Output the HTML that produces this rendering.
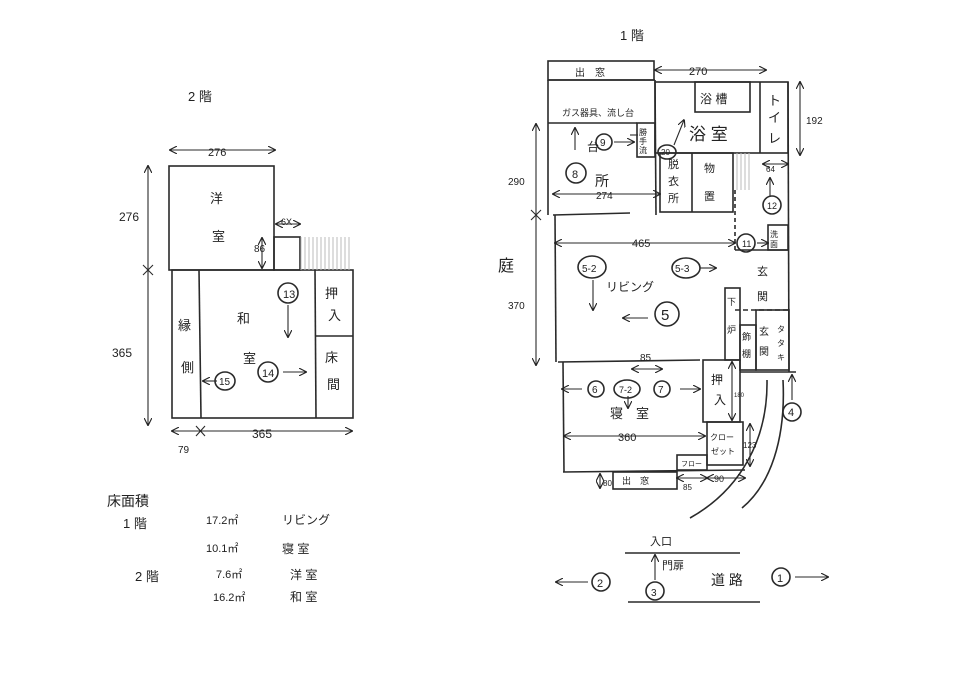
<!DOCTYPE html>
<html><head><meta charset="utf-8"><style>
html,body{margin:0;padding:0;background:#fff;}
svg{display:block;}
text{font-family:"Liberation Sans","Noto Sans CJK JP",sans-serif;fill:#222;}
</style></head><body>
<svg width="978" height="697" viewBox="0 0 978 697" xmlns="http://www.w3.org/2000/svg">
<defs>
<marker id="a" viewBox="0 0 10 10" refX="9" refY="5" markerWidth="7" markerHeight="7" orient="auto-start-reverse"><path d="M0,0 L10,5 L0,10" fill="none" stroke="#222" stroke-width="1.5"/></marker>
<pattern id="h" width="4" height="4" patternUnits="userSpaceOnUse"><line x1="1" y1="0" x2="1" y2="4" stroke="#bbb" stroke-width="1"/></pattern>
</defs>
<rect width="978" height="697" fill="#fff"/>
<g stroke="#2a2a2a" stroke-width="1.6" fill="none">
<!-- 2F -->
<rect x="169" y="166" width="105" height="104"/>
<rect x="172" y="270" width="181" height="148"/>
<line x1="199" y1="270" x2="201" y2="418"/>
<line x1="315" y1="270" x2="316" y2="418"/>
<line x1="315" y1="336" x2="353" y2="336"/>
<rect x="274" y="237" width="26" height="33"/>
<rect x="300" y="237" width="50" height="33" fill="url(#h)" stroke="none"/>
<g stroke-width="1.1">
<line x1="170" y1="150" x2="275" y2="150" marker-start="url(#a)" marker-end="url(#a)"/>
<line x1="148" y1="166" x2="148" y2="425" marker-start="url(#a)" marker-end="url(#a)"/>
<line x1="143" y1="265" x2="153" y2="275"/><line x1="153" y1="265" x2="143" y2="275"/>
<line x1="172" y1="431" x2="352" y2="431" marker-start="url(#a)" marker-end="url(#a)"/>
<line x1="196" y1="426" x2="205" y2="436"/><line x1="205" y1="426" x2="196" y2="436"/>
<line x1="276" y1="224" x2="300" y2="224" marker-start="url(#a)" marker-end="url(#a)"/>
<line x1="262" y1="238" x2="262" y2="268" marker-start="url(#a)" marker-end="url(#a)"/>
<line x1="288" y1="305" x2="288" y2="337" marker-end="url(#a)"/>
<line x1="283" y1="372" x2="306" y2="372" marker-end="url(#a)"/>
<line x1="217" y1="381" x2="203" y2="381" marker-end="url(#a)"/>
</g>
<circle cx="288" cy="293" r="10"/><circle cx="268" cy="372" r="10"/><ellipse cx="225" cy="381" rx="10" ry="9"/>
<!-- 1F -->
<rect x="548" y="61" width="106" height="19"/>
<line x1="548" y1="80" x2="548" y2="215"/>
<line x1="548" y1="80" x2="655" y2="80"/>
<line x1="655" y1="80" x2="656" y2="215"/>
<line x1="548" y1="123" x2="637" y2="123"/>
<rect x="637" y="123" width="18" height="34"/>
<line x1="553" y1="215" x2="630" y2="213"/>
<rect x="655" y="82" width="133" height="71"/>
<rect x="695" y="82" width="55" height="30"/>
<line x1="760" y1="82" x2="760" y2="153"/>
<rect x="660" y="153" width="73" height="59"/>
<line x1="692" y1="153" x2="692" y2="212"/>
<rect x="735" y="153" width="17" height="37" fill="url(#h)" stroke="none"/>
<line x1="788" y1="82" x2="789" y2="372"/>
<rect x="768" y="225" width="20" height="25"/>
<line x1="735" y1="190" x2="735" y2="250" stroke-dasharray="4,3"/>
<line x1="735" y1="250" x2="788" y2="250"/>
<line x1="735" y1="310" x2="790" y2="310" stroke-dasharray="5,3"/>
<line x1="555" y1="215" x2="556" y2="362"/>
<rect x="725" y="288" width="15" height="72"/>
<rect x="740" y="325" width="16" height="45"/>
<rect x="756" y="310" width="33" height="60"/>
<line x1="740" y1="372" x2="796" y2="372"/>
<line x1="558" y1="362" x2="700" y2="360"/>
<line x1="563" y1="362" x2="564" y2="472"/>
<rect x="703" y="360" width="37" height="62"/>
<rect x="707" y="422" width="36" height="43"/>
<rect x="677" y="455" width="30" height="15"/>
<line x1="563" y1="472" x2="745" y2="470"/>
<rect x="613" y="472" width="64" height="17"/>
<path d="M767,380 C768,440 740,490 690,518"/>
<path d="M783,380 C786,440 770,485 742,508"/>
<line x1="625" y1="553" x2="740" y2="553"/>
<line x1="628" y1="602" x2="760" y2="602"/>
<g stroke-width="1.1">
<line x1="655" y1="70" x2="766" y2="70" marker-start="url(#a)" marker-end="url(#a)"/>
<line x1="800" y1="82" x2="800" y2="155" marker-start="url(#a)" marker-end="url(#a)"/>
<line x1="536" y1="124" x2="536" y2="365" marker-start="url(#a)" marker-end="url(#a)"/>
<line x1="531" y1="210" x2="541" y2="220"/><line x1="541" y1="210" x2="531" y2="220"/>
<line x1="553" y1="194" x2="660" y2="194" marker-start="url(#a)" marker-end="url(#a)"/>
<line x1="555" y1="243" x2="735" y2="243" marker-start="url(#a)" marker-end="url(#a)"/>
<line x1="757" y1="243" x2="768" y2="243" marker-end="url(#a)"/>
<line x1="763" y1="164" x2="788" y2="164" marker-start="url(#a)" marker-end="url(#a)"/>
<line x1="770" y1="197" x2="770" y2="178" marker-end="url(#a)"/>
<line x1="575" y1="150" x2="575" y2="128" marker-end="url(#a)"/>
<line x1="614" y1="142" x2="634" y2="142" marker-end="url(#a)"/>
<line x1="674" y1="145" x2="684" y2="120" marker-end="url(#a)"/>
<line x1="593" y1="280" x2="593" y2="310" marker-end="url(#a)"/>
<line x1="700" y1="268" x2="716" y2="268" marker-end="url(#a)"/>
<line x1="648" y1="318" x2="623" y2="318" marker-end="url(#a)"/>
<line x1="632" y1="369" x2="662" y2="369" marker-start="url(#a)" marker-end="url(#a)"/>
<line x1="582" y1="389" x2="562" y2="389" marker-end="url(#a)"/>
<line x1="680" y1="389" x2="700" y2="389" marker-end="url(#a)"/>
<line x1="628" y1="396" x2="628" y2="408" marker-end="url(#a)"/>
<line x1="732" y1="362" x2="732" y2="420" marker-start="url(#a)" marker-end="url(#a)"/>
<line x1="564" y1="436" x2="705" y2="436" marker-start="url(#a)" marker-end="url(#a)"/>
<line x1="750" y1="424" x2="750" y2="466" marker-start="url(#a)" marker-end="url(#a)"/>
<line x1="600" y1="474" x2="600" y2="488" marker-start="url(#a)" marker-end="url(#a)"/>
<line x1="677" y1="478" x2="707" y2="478" marker-start="url(#a)" marker-end="url(#a)"/>
<line x1="707" y1="478" x2="745" y2="478" marker-start="url(#a)" marker-end="url(#a)"/>
<line x1="792" y1="400" x2="792" y2="375" marker-end="url(#a)"/>
<line x1="655" y1="580" x2="655" y2="555" marker-end="url(#a)"/>
<line x1="588" y1="582" x2="556" y2="582" marker-end="url(#a)"/>
<line x1="795" y1="577" x2="828" y2="577" marker-end="url(#a)"/>
<line x1="630" y1="135" x2="638" y2="135"/>
</g>
<circle cx="604" cy="142" r="8"/><ellipse cx="667" cy="152" rx="9" ry="7"/>
<circle cx="576" cy="173" r="10"/><circle cx="772" cy="205" r="9"/><circle cx="746" cy="243" r="9"/>
<ellipse cx="592" cy="267" rx="14" ry="11"/><ellipse cx="686" cy="268" rx="14" ry="10"/><circle cx="667" cy="314" r="12"/>
<circle cx="596" cy="389" r="8"/><ellipse cx="627" cy="389" rx="13" ry="9"/><circle cx="662" cy="389" r="8"/>
<circle cx="792" cy="412" r="9"/><circle cx="655" cy="591" r="9"/><circle cx="601" cy="582" r="9"/><circle cx="781" cy="577" r="9"/>
</g>
<g font-size="13">
<text x="188" y="101">2 階</text>
<text x="208" y="156" font-size="11">276</text>
<text x="119" y="221" font-size="12">276</text>
<text x="112" y="357" font-size="12">365</text>
<text x="210" y="203">洋</text><text x="212" y="241">室</text>
<text x="281" y="225" font-size="9">6X</text><text x="254" y="252" font-size="10">86</text>
<text x="237" y="323">和</text><text x="243" y="363">室</text>
<text x="178" y="330">縁</text><text x="181" y="372">側</text>
<text x="325" y="298">押</text><text x="328" y="320">入</text>
<text x="325" y="362">床</text><text x="327" y="389">間</text>
<text x="283" y="298" font-size="11">13</text><text x="262" y="377" font-size="11">14</text><text x="219" y="385" font-size="10">15</text>
<text x="252" y="438" font-size="12">365</text><text x="178" y="453" font-size="10">79</text>

<text x="620" y="40">1 階</text>
<text x="575" y="76" font-size="10">出　窓</text>
<text x="689" y="75" font-size="11">270</text>
<text x="700" y="103" font-size="12">浴 槽</text>
<text x="768" y="105">ト</text><text x="768" y="122">イ</text><text x="768" y="143">レ</text>
<text x="806" y="124" font-size="10">192</text>
<text x="562" y="116" font-size="9">ガス器具、流し台</text>
<text x="689" y="140" font-size="17">浴 室</text>
<text x="639" y="135" font-size="8">勝</text><text x="639" y="144" font-size="8">手</text><text x="639" y="153" font-size="8">流</text>
<text x="587" y="151" font-size="12">台</text><text x="600" y="146" font-size="10">9</text><text x="661" y="155" font-size="8">20</text>
<text x="595" y="186" font-size="14">所</text><text x="572" y="178" font-size="11">8</text>
<text x="596" y="199" font-size="10">274</text>
<text x="668" y="168" font-size="11">脱</text><text x="668" y="185" font-size="11">衣</text><text x="668" y="202" font-size="11">所</text>
<text x="704" y="172" font-size="11">物</text><text x="704" y="200" font-size="11">置</text>
<text x="766" y="172" font-size="8">64</text><text x="767" y="209" font-size="9">12</text>
<text x="508" y="185" font-size="10">290</text><text x="508" y="309" font-size="10">370</text>
<text x="498" y="271" font-size="16">庭</text>
<text x="632" y="247" font-size="11">465</text><text x="742" y="247" font-size="9">11</text>
<text x="770" y="237" font-size="8">洗</text><text x="770" y="247" font-size="8">面</text>
<text x="582" y="272" font-size="10">5-2</text><text x="675" y="272" font-size="10">5-3</text>
<text x="606" y="291" font-size="12">リビング</text>
<text x="661" y="320" font-size="15">5</text>
<text x="757" y="275" font-size="11">玄</text><text x="757" y="300" font-size="11">関</text>
<text x="727" y="305" font-size="9">下</text><text x="727" y="333" font-size="9">炉</text>
<text x="742" y="340" font-size="9">飾</text><text x="742" y="357" font-size="9">棚</text>
<text x="759" y="335" font-size="10">玄</text><text x="759" y="355" font-size="10">関</text>
<text x="777" y="332" font-size="8">タ</text><text x="777" y="346" font-size="8">タ</text><text x="777" y="360" font-size="8">キ</text>
<text x="640" y="361" font-size="10">85</text>
<text x="592" y="393" font-size="10">6</text><text x="619" y="393" font-size="9">7-2</text><text x="658" y="393" font-size="10">7</text>
<text x="610" y="418" font-size="13">寝　室</text>
<text x="711" y="384" font-size="12">押</text><text x="714" y="404" font-size="12">入</text><text x="734" y="397" font-size="6">180</text>
<text x="618" y="441" font-size="11">360</text>
<text x="710" y="440" font-size="8">クロー</text><text x="711" y="454" font-size="8">ゼット</text>
<text x="743" y="448" font-size="8">123</text>
<text x="681" y="466" font-size="7">フロー</text>
<text x="622" y="484" font-size="9">出　窓</text>
<text x="603" y="486" font-size="8">80</text><text x="683" y="490" font-size="8">85</text><text x="714" y="482" font-size="9">90</text>
<text x="788" y="416" font-size="11">4</text>
<text x="650" y="545" font-size="11">入口</text>
<text x="662" y="569" font-size="11">門扉</text>
<text x="651" y="596" font-size="10">3</text><text x="597" y="587" font-size="11">2</text><text x="777" y="582" font-size="11">1</text>
<text x="711" y="585" font-size="14">道 路</text>

<text x="107" y="506" font-size="14">床面積</text>
<text x="123" y="528" font-size="13">1 階</text>
<text x="206" y="524" font-size="11">17.2㎡</text><text x="282" y="524" font-size="12">リビング</text>
<text x="206" y="552" font-size="11">10.1㎡</text><text x="282" y="553" font-size="12">寝 室</text>
<text x="135" y="581" font-size="13">2 階</text>
<text x="216" y="578" font-size="11">7.6㎡</text><text x="290" y="579" font-size="12">洋 室</text>
<text x="213" y="601" font-size="11">16.2㎡</text><text x="290" y="601" font-size="12">和 室</text>
</g>
</svg>
</body></html>
